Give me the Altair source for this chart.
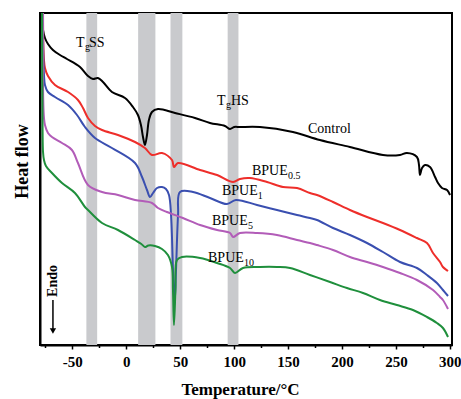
import altair as alt
import pandas as pd

# ---- data (temperature in deg C, heat flow in arbitrary units) ----
control_t = [-78.1, -77.6, -77.2, -75.4, -72.6, -68.0, -61.5, -55.0, -42.9, -35.5, -30.9, -26.3, -21.6,
             -13.3, -1.2, 6.2, 10.8, 13.6, 15.5, 17.3, 19.2, 21.0, 23.8, 29.4, 45.2, 63.7, 77.6, 91.5,
             96.2, 100.0, 105.4, 124.0, 154.5, 179.5, 207.3, 238.0, 253.7, 260.2, 269.5, 271.4, 272.3,
             274.2, 277.0, 281.6, 286.3, 289.0, 292.7, 297.4, 300.2]
control_h = [332, 325, 315, 307, 301, 295, 290, 286, 278, 269, 266, 267, 263,
             253, 247, 238, 230, 220, 208, 200, 210, 225, 233, 236, 232, 227, 222, 219,
             216, 218, 218, 218, 213, 205, 198, 190, 190, 192, 188, 180, 170,
             177, 180, 178, 168, 162, 157, 155, 150]

bpue05_t = [-77.2, -77.0, -76.3, -75.4, -72.6, -66.1, -54.0, -44.8, -40.1, -35.5, -29.0, -22.5, -7.7,
            8.1, 17.3, 23.8, 33.1, 42.4, 44.2, 47.9, 68.4, 84.2, 99.0, 105.4, 114.7, 130.5, 145.3,
            158.3, 170.3, 176.8, 191.7, 207.4, 223.2, 238.0, 253.8, 269.5, 278.8, 284.4, 290.9,
            293.6, 298.3]
bpue05_h = [332, 305, 285, 277, 269, 260, 253, 245, 237, 227, 219, 215, 210,
            203, 197, 190, 192, 185, 178, 182, 175, 170, 163, 166, 167, 163, 158,
            157, 152, 150, 143, 135, 128, 122, 115, 107, 102, 92, 83,
            78, 74]

bpue1_t = [-77.2, -77.0, -76.3, -75.4, -72.6, -66.1, -54.0, -45.7, -38.3, -29.0, -13.3, 8.1, 14.6,
           19.2, 22.0, 24.8, 28.5, 33.1, 36.8, 39.6, 41.5, 43.3, 44.7, 46.1, 48.0, 49.8, 61.9, 77.6,
           93.4, 101.6, 121.2, 139.7, 158.3, 170.3, 176.8, 191.7, 207.4, 223.2, 238.0, 253.8, 269.5,
           278.8, 288.0, 293.6, 298.3]
bpue1_h = [332, 295, 270, 260, 253, 248, 240, 230, 218, 207, 197, 182, 168,
           155, 148, 152, 157, 158, 156, 150, 130, 75, 40, 75, 130, 153, 153, 147,
           141, 145, 140, 135, 130, 127, 125, 117, 110, 102, 93, 83, 77,
           70, 62, 55, 49]

bpue5_t = [-77.2, -77.0, -76.3, -75.4, -72.6, -68.9, -59.6, -50.4, -44.8, -35.5, -22.5, -7.7, 8.1,
           23.8, 29.4, 37.7, 52.5, 68.4, 84.2, 96.2, 99.0, 105.4, 121.2, 139.7, 158.3, 170.3, 176.8,
           191.7, 207.4, 223.2, 238.0, 253.8, 269.5, 284.4, 290.9, 293.6, 298.3]
bpue5_h = [332, 245, 227, 220, 212, 208, 202, 195, 182, 160, 153, 150, 145,
           142, 137, 133, 127, 120, 115, 112, 108, 112, 112, 110, 105, 102, 100,
           95, 88, 83, 78, 72, 65, 55, 48, 45, 36]

bpue10_t = [-78.1, -77.6, -77.2, -76.3, -74.5, -68.9, -59.6, -47.6, -38.3, -35.5, -22.5, -7.7, 8.1,
            14.0, 17.3, 20.5, 26.6, 33.1, 38.6, 42.4, 43.3, 44.2, 45.6, 47.0, 51.6, 68.4, 84.2, 96.2,
            100.8, 108.2, 124.0, 139.7, 151.8, 170.3, 188.9, 204.6, 219.5, 235.2, 250.9, 265.8, 278.8,
            288.0, 293.6, 298.3]
bpue10_h = [332, 215, 193, 185, 179, 172, 162, 152, 138, 135, 122, 115, 105,
            101, 98, 99.5, 99, 96, 90, 78, 55, 20, 55, 85, 88, 87, 82, 77,
            72, 77, 78, 78, 77, 70, 63, 57, 52, 45, 40, 35, 28,
            22, 17, 8]

series_names = ["Control", "BPUE0.5", "BPUE1", "BPUE5", "BPUE10"]
series_t = [control_t, bpue05_t, bpue1_t, bpue5_t, bpue10_t]
series_h = [control_h, bpue05_h, bpue1_h, bpue5_h, bpue10_h]
series_colors = ["#000000", "#ee2e2a", "#3a4fb0", "#b25cb8", "#1f8f3c"]

# grey transition bands
band_start = [-37, 11, 41, 94]
band_end = [-27, 27, 52, 104]

# annotation texts
main_text = ["T", "SS", "T", "HS", "Control", "BPUE", "BPUE", "BPUE", "BPUE"]
main_t = [-46.6, -34.6, 84.1, 97.1, 168.5, 116.5, 88.7, 79.4, 75.8]
main_h = [298, 298, 240, 240, 212, 170, 150, 120, 83]
sub_text = ["g", "g", "0.5", "1", "5", "10"]
sub_t = [-38.3, 92.4, 150.0, 122.0, 112.8, 109.1]
sub_h = [295, 237, 166, 146, 116, 79]

endo_t = [-68]
endo_h = [64]
arrow_t = [-68]
arrow_top = [45]
arrow_bottom = [14]

# ---- chart ----
FONT = "Liberation Serif"
x_scale = alt.Scale(domain=[-80, 302], nice=False, zero=False)
y_scale = alt.Scale(domain=[0, 332], nice=False, zero=False)

x_axis = alt.Axis(
    title="Temperature/°C",
    values=list(range(-75, 301, 25)),
    labelExpr="datum.value % 50 === 0 ? '' + datum.value : ''",
    tickSize={"condition": {"test": "datum.value % 50 === 0", "value": 4}, "value": 2.5},
    grid=False,
    labelFlush=False,
    labelOverlap=False,
    labelPadding=5,
    titleX=200,
    titleY=49,
    titleBaseline="alphabetic",
    titleFontSize=17,
)
y_axis = alt.Axis(
    title="Heat flow",
    ticks=False,
    labels=False,
    grid=False,
    titleX=-18,
    titleY=148,
    titleBaseline="middle",
    titleFontSize=18,
)


def X(field):
    return alt.X(field, type="quantitative", scale=x_scale, axis=x_axis)


def Y(field):
    return alt.Y(field, type="quantitative", scale=y_scale, axis=y_axis)


bands = alt.Chart(pd.DataFrame({"start": band_start, "end": band_end})).mark_rect(
    color="#c9cacd"
).encode(x=X("start"), x2="end")

layers = [bands]
for name, ts, hs, col in zip(series_names, series_t, series_h, series_colors):
    df = pd.DataFrame({"T": ts, "h": hs, "sample": name})
    layers.append(
        alt.Chart(df).mark_line(color=col, strokeWidth=2, interpolate="catmull-rom", clip=True).encode(
            x=X("T"), y=Y("h")
        )
    )

main_df = pd.DataFrame({"T": main_t, "h": main_h, "txt": main_text})
layers.append(
    alt.Chart(main_df).mark_text(font=FONT, fontSize=14, align="left", baseline="alphabetic", color="black")
    .encode(x=X("T"), y=Y("h"), text="txt:N")
)
sub_df = pd.DataFrame({"T": sub_t, "h": sub_h, "txt": sub_text})
layers.append(
    alt.Chart(sub_df).mark_text(font=FONT, fontSize=10, align="left", baseline="alphabetic", color="black")
    .encode(x=X("T"), y=Y("h"), text="txt:N")
)
endo_df = pd.DataFrame({"T": endo_t, "h": endo_h, "txt": ["Endo"]})
layers.append(
    alt.Chart(endo_df).mark_text(font=FONT, fontSize=14, fontWeight="bold", angle=270,
                                 align="center", baseline="middle", color="black")
    .encode(x=X("T"), y=Y("h"), text="txt:N")
)
arrow_df = pd.DataFrame({"T": arrow_t, "top": arrow_top, "bottom": arrow_bottom})
layers.append(
    alt.Chart(arrow_df).mark_rule(color="black", strokeWidth=1.5)
    .encode(x=X("T"), y=Y("top"), y2="bottom")
)
layers.append(
    alt.Chart(arrow_df).mark_point(shape="triangle-down", filled=True, size=40, color="black", opacity=1)
    .encode(x=X("T"), y=Y("bottom"))
)

chart = (
    alt.layer(*layers)
    .properties(
        width=412,
        height=332,
        autosize=alt.AutoSizeParams(type="none"),
        padding={"left": 40, "top": 13, "right": 9, "bottom": 54},
        background="white",
    )
    .configure_view(stroke="black", strokeWidth=2)
    .configure_axis(
        domainColor="black",
        domainWidth=2,
        tickColor="black",
        tickWidth=1.5,
        labelFont=FONT,
        labelFontWeight="bold",
        labelFontSize=15,
        labelColor="black",
        titleFont=FONT,
        titleFontWeight="bold",
        titleColor="black",
    )
)

chart.save("out.html", embed_options={"renderer": "svg", "actions": False})
